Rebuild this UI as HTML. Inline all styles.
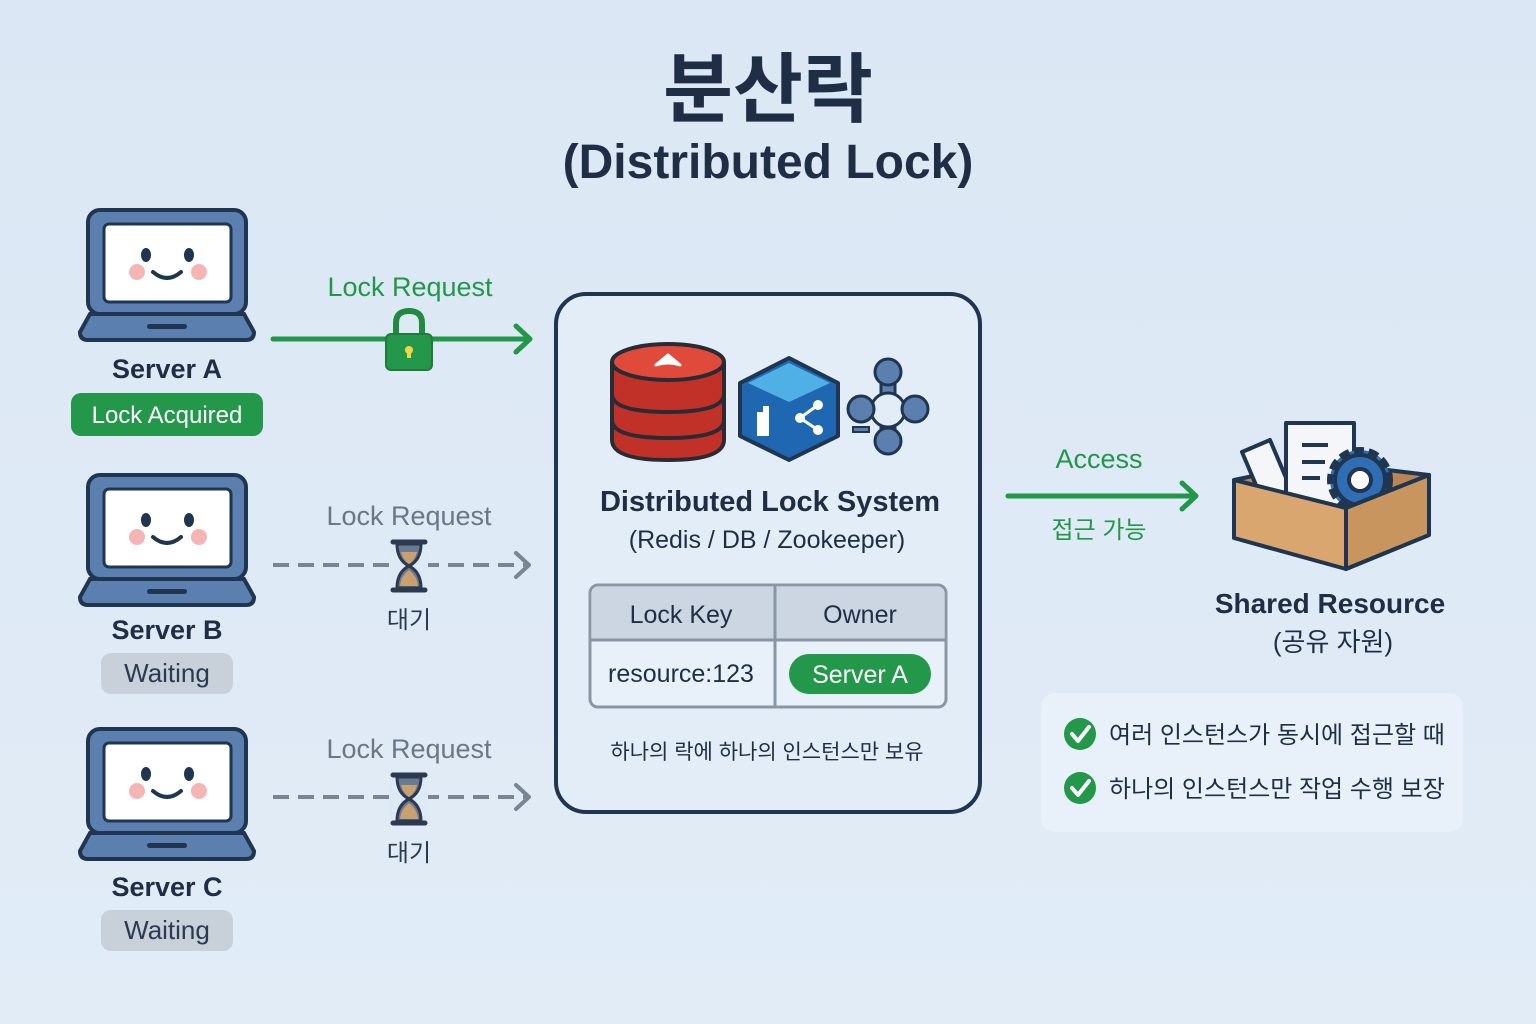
<!DOCTYPE html>
<html><head><meta charset="utf-8"><style>
html,body{margin:0;padding:0}
body{width:1536px;height:1024px;overflow:hidden;background:linear-gradient(180deg,#dbe7f4,#e1ecf7);font-family:"Liberation Sans","Noto Sans CJK KR",sans-serif}
svg{display:block}
svg text{font-family:"Liberation Sans","Noto Sans CJK KR",sans-serif}
</style></head><body>
<svg width="1536" height="1024" viewBox="0 0 1536 1024" xmlns="http://www.w3.org/2000/svg">
<defs>
<g id="laptop">
<rect x="88" y="210" width="158" height="104" rx="12" fill="#5b80b0" stroke="#1f3550" stroke-width="4"/>
<rect x="104" y="224" width="127" height="78" rx="5" fill="#fff" stroke="#1f3550" stroke-width="3"/>
<path d="M90 314 H244 L254 332 Q254 340 246 340 H88 Q80 340 80 332 Z" fill="#5b80b0" stroke="#1f3550" stroke-width="4"/>
<rect x="147" y="324" width="40" height="5" rx="2.5" fill="#1f3550"/>
<ellipse cx="146" cy="255" rx="5" ry="7" fill="#1f3550"/>
<ellipse cx="189" cy="255" rx="5" ry="7" fill="#1f3550"/>
<circle cx="137" cy="272" r="8" fill="#f5b5b5"/>
<circle cx="199" cy="272" r="8" fill="#f5b5b5"/>
<path d="M153 272 Q167 284 181 272" fill="none" stroke="#1f3550" stroke-width="4" stroke-linecap="round"/>
</g>
<g id="hour">
<path d="M-16 -24 H16 M-16 24 H16" stroke="#2b3a50" stroke-width="5" stroke-linecap="round"/>
<path d="M-12 -22 H12 Q12 -6 0 0 Q12 6 12 22 H-12 Q-12 6 0 0 Q-12 -6 -12 -22Z" fill="#6a7a90" stroke="#2b3a50" stroke-width="3"/>
<path d="M-8 -14 H8 Q6 -6 0 -2 Q-6 -6 -8 -14Z" fill="#c9a070"/>
<path d="M0 4 Q8 10 9 20 H-9 Q-8 10 0 4Z" fill="#c9a070"/>
</g>
</defs>

<text x="768" y="116" text-anchor="middle" font-size="76" font-weight="bold" fill="#1f2d45">분산락</text>
<text x="768" y="178" text-anchor="middle" font-size="48" font-weight="bold" fill="#1f2d45">(Distributed Lock)</text>

<use href="#laptop"/>
<use href="#laptop" y="265"/>
<use href="#laptop" y="519"/>

<text x="167" y="378" text-anchor="middle" font-size="27" font-weight="bold" fill="#1f2d45">Server A</text>
<rect x="71" y="393" width="192" height="43" rx="10" fill="#23984a"/>
<text x="167" y="423" text-anchor="middle" font-size="24" fill="#fff">Lock Acquired</text>
<text x="167" y="639" text-anchor="middle" font-size="27" font-weight="bold" fill="#1f2d45">Server B</text>
<rect x="101" y="653" width="132" height="41" rx="10" fill="#c8d0da"/>
<text x="167" y="682" text-anchor="middle" font-size="26" fill="#2b3a50">Waiting</text>
<text x="167" y="896" text-anchor="middle" font-size="27" font-weight="bold" fill="#1f2d45">Server C</text>
<rect x="101" y="910" width="132" height="41" rx="10" fill="#c8d0da"/>
<text x="167" y="939" text-anchor="middle" font-size="26" fill="#2b3a50">Waiting</text>

<text x="410" y="296" text-anchor="middle" font-size="27" fill="#22974a">Lock Request</text>
<line x1="273" y1="339" x2="528" y2="339" stroke="#22974a" stroke-width="5" stroke-linecap="round"/>
<path d="M516 326 L530 339 L516 352" fill="none" stroke="#22974a" stroke-width="5" stroke-linecap="round" stroke-linejoin="round"/>
<path d="M396 335 V323 Q396 311 409 311 Q422 311 422 323 V335" fill="none" stroke="#1f8a40" stroke-width="6"/>
<rect x="386" y="334" width="46" height="36" rx="5" fill="#23984a" stroke="#1f7a3c" stroke-width="2"/>
<circle cx="409" cy="350" r="4" fill="#f3d54a"/><rect x="407" y="350" width="4" height="8" fill="#f3d54a"/>

<text x="409" y="525" text-anchor="middle" font-size="27" fill="#6b7686">Lock Request</text>
<line x1="273" y1="565" x2="526" y2="565" stroke="#7a8594" stroke-width="4" stroke-dasharray="16 9"/>
<path d="M516 553 L529 565 L516 577" fill="none" stroke="#7a8594" stroke-width="4" stroke-linecap="round" stroke-linejoin="round"/>
<rect x="390" y="538" width="38" height="55" fill="#dde9f5"/>
<use href="#hour" x="409" y="566"/>
<text x="409" y="628" text-anchor="middle" font-size="24" fill="#2b3a50">대기</text>

<text x="409" y="758" text-anchor="middle" font-size="27" fill="#6b7686">Lock Request</text>
<line x1="273" y1="797" x2="526" y2="797" stroke="#7a8594" stroke-width="4" stroke-dasharray="16 9"/>
<path d="M516 785 L529 797 L516 809" fill="none" stroke="#7a8594" stroke-width="4" stroke-linecap="round" stroke-linejoin="round"/>
<rect x="390" y="771" width="38" height="55" fill="#dde9f5"/>
<use href="#hour" x="409" y="799"/>
<text x="409" y="861" text-anchor="middle" font-size="24" fill="#2b3a50">대기</text>

<rect x="556" y="294" width="424" height="518" rx="30" fill="#e3edf8" stroke="#1f3550" stroke-width="4"/>
<g stroke="#2b2b35" stroke-width="4">
<path d="M612 362 V440 Q612 460 668 460 Q724 460 724 440 V362" fill="#c23128"/>
<path d="M612 394 Q612 412 668 412 Q724 412 724 394" fill="none"/>
<path d="M612 420 Q612 438 668 438 Q724 438 724 420" fill="none"/>
<ellipse cx="668" cy="362" rx="56" ry="18" fill="#e04a3b"/>
</g>
<path d="M656 365 L668 355 L680 365 Q668 361 656 365Z" fill="#fff" stroke="#fff" stroke-width="3" stroke-linejoin="round"/>
<path d="M740 383 L789 358 L838 383 V436 L789 460 L740 436 Z" fill="#1f67b0" stroke="#1f3550" stroke-width="4" stroke-linejoin="round"/>
<path d="M748 383 L789 363 L830 383 L789 402 Z" fill="#4fb0e6"/>
<circle cx="818" cy="405" r="5" fill="#fff"/><circle cx="800" cy="418" r="5" fill="#fff"/><circle cx="818" cy="430" r="5" fill="#fff"/>
<path d="M818 405 L800 418 L818 430" stroke="#fff" stroke-width="3" fill="none"/>
<path d="M757 412 h6 v-6 h6 v30 h-12 z" fill="#fff"/>
<g fill="#5b80b0" stroke="#1f3550" stroke-width="3">
<rect x="881" y="380" width="14" height="60"/>
<rect x="860" y="403" width="56" height="14"/>
<circle cx="888" cy="410" r="17" fill="#e3edf8"/>
<circle cx="888" cy="372" r="13"/><circle cx="888" cy="441" r="13"/>
<circle cx="861" cy="409" r="13"/><circle cx="915" cy="409" r="13"/>
</g>
<rect x="853" y="427" width="16" height="5" fill="#5b80b0" stroke="#1f3550" stroke-width="2"/>

<text x="770" y="511" text-anchor="middle" font-size="29" font-weight="bold" fill="#1f2d45">Distributed Lock System</text>
<text x="767" y="548" text-anchor="middle" font-size="25" fill="#1f2d45">(Redis / DB / Zookeeper)</text>

<rect x="590" y="585" width="356" height="122" rx="8" fill="#e8f0f9" stroke="#8a96a6" stroke-width="3"/>
<path d="M592 640 V593 Q592 587 598 587 H938 Q944 587 944 593 V640 Z" fill="#cbd6e2"/>
<line x1="591" y1="640" x2="945" y2="640" stroke="#8a96a6" stroke-width="3"/>
<line x1="775" y1="586" x2="775" y2="706" stroke="#8a96a6" stroke-width="3"/>
<text x="681" y="623" text-anchor="middle" font-size="25" fill="#1f2d45">Lock Key</text>
<text x="860" y="623" text-anchor="middle" font-size="25" fill="#1f2d45">Owner</text>
<text x="681" y="682" text-anchor="middle" font-size="25" fill="#1f2d45">resource:123</text>
<rect x="789" y="654" width="142" height="40" rx="20" fill="#23984a"/>
<text x="860" y="683" text-anchor="middle" font-size="25" fill="#fff">Server A</text>
<text x="767" y="759" text-anchor="middle" font-size="21" fill="#1f2d45">하나의 락에 하나의 인스턴스만 보유</text>

<text x="1099" y="468" text-anchor="middle" font-size="27" fill="#22974a">Access</text>
<line x1="1008" y1="496" x2="1194" y2="496" stroke="#22974a" stroke-width="5" stroke-linecap="round"/>
<path d="M1182 483 L1196 496 L1182 509" fill="none" stroke="#22974a" stroke-width="5" stroke-linecap="round" stroke-linejoin="round"/>
<text x="1099" y="538" text-anchor="middle" font-size="24" fill="#22974a">접근 가능</text>

<g stroke="#1f3550" stroke-width="4" stroke-linejoin="round">
<path d="M1234 480 L1320 462 L1429 475 L1346 508Z" fill="#b98552"/>
<path d="M1242 452 L1270 440 L1292 492 L1264 504Z" fill="#f4f6fa"/>
<rect x="1286" y="423" width="68" height="85" fill="#f4f6fa"/>
<path d="M1302 445 H1328 M1302 462 H1325 M1302 478 H1320" stroke-width="4"/>
<circle cx="1360" cy="480" r="30" fill="#2f6db5" stroke-dasharray="10 5" stroke-width="6"/>
<circle cx="1360" cy="480" r="25" fill="#2f6db5"/>
<circle cx="1360" cy="480" r="11" fill="#fff"/>
<path d="M1234 480 L1346 508 L1429 475 L1429 535 L1346 569 L1234 538Z" fill="#d8a66e"/>
<path d="M1346 508 L1429 475 V535 L1346 569Z" fill="#c9955e"/>
</g>
<text x="1330" y="613" text-anchor="middle" font-size="28" font-weight="bold" fill="#1f2d45">Shared Resource</text>
<text x="1333" y="651" text-anchor="middle" font-size="26" fill="#1f2d45">(공유 자원)</text>

<rect x="1041" y="693" width="422" height="139" rx="14" fill="#e8f0f9"/>
<circle cx="1080" cy="734" r="16" fill="#23984a"/>
<path d="M1072 734 L1078 741 L1089 727" fill="none" stroke="#fff" stroke-width="4" stroke-linecap="round" stroke-linejoin="round"/>
<circle cx="1080" cy="788" r="16" fill="#23984a"/>
<path d="M1072 788 L1078 795 L1089 781" fill="none" stroke="#fff" stroke-width="4" stroke-linecap="round" stroke-linejoin="round"/>
<text x="1109" y="743" font-size="24" fill="#1f2d45">여러 인스턴스가 동시에 접근할 때</text>
<text x="1109" y="797" font-size="24" fill="#1f2d45">하나의 인스턴스만 작업 수행 보장</text>
</svg>
</body></html>
